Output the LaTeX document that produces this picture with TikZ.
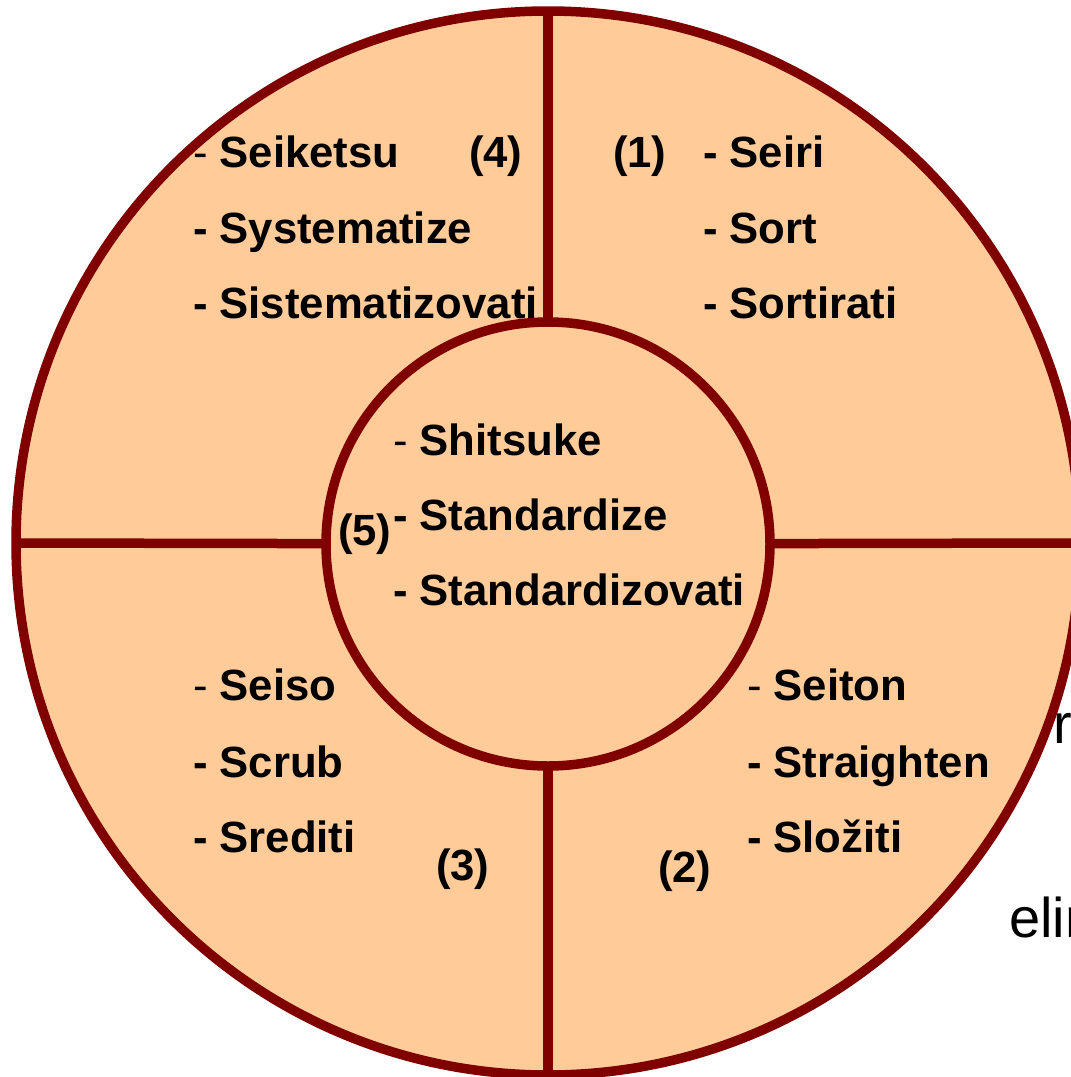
\documentclass[tikz,border=0pt]{standalone}
\usepackage{fontspec}
\setmainfont{Liberation Sans}
\definecolor{peach}{HTML}{FFCC99}
\definecolor{rim}{HTML}{800000}
\newcommand{\thindash}{{\mdseries -}}
\begin{document}
\begin{tikzpicture}[x=1pt,y=-1pt,
  ring/.style={circle,draw=rim,fill=peach,line width=9.5pt,inner sep=0pt,outer sep=0pt},
  divider/.style={draw=rim,line width=9.5pt},
  lbl/.style={anchor=base west,inner sep=0pt,outer sep=0pt,font=\fontsize{43.7pt}{43.7pt}\selectfont\bfseries,text=black},
  bgtxt/.style={anchor=base west,inner sep=0pt,outer sep=0pt,font=\fontsize{56pt}{56pt}\selectfont,text=black}
]
\fill[white] (0,0) rectangle (1071,1077);
\useasboundingbox (0,0) rectangle (1071,1077);
% text partly hidden behind the wheel
\node[bgtxt] (tr) at (1053,743) {r};
\node[bgtxt] (tel) at (1009,937) {elim};
% wheel
\node[ring,minimum size=1064pt] (outer) at (548,543) {};
\draw[divider] (outer.north) -- (548,544) -- (outer.south);
\draw[divider] (outer.west) -- (548,544) -- (outer.east);
\node[ring,minimum size=444pt] (inner) at (548,544) {};
% quadrant 4 (top left)
\node[lbl] (s4a) at (193,167) {\thindash{} Seiketsu};
\node[lbl] (n4) at (469,167) {(4)};
\node[lbl] (s4b) at (193,243) {- Systematize};
\node[lbl] (s4c) at (193,318) {- Sistematizovati};
% quadrant 1 (top right)
\node[lbl] (n1) at (613,167) {(1)};
\node[lbl] (s1a) at (703,167) {- Seiri};
\node[lbl] (s1b) at (703,243) {- Sort};
\node[lbl] (s1c) at (703,318) {- Sortirati};
% centre 5
\node[lbl] (s5a) at (393,455) {\thindash{} Shitsuke};
\node[lbl] (s5b) at (393,530) {- Standardize};
\node[lbl] (s5c) at (393,605) {- Standardizovati};
\node[lbl] (n5) at (338,545) {(5)};
% quadrant 3 (bottom left)
\node[lbl] (s3a) at (193,700) {\thindash{} Seiso};
\node[lbl] (s3b) at (193,777) {- Scrub};
\node[lbl] (s3c) at (193,852) {- Srediti};
\node[lbl] (n3) at (436,880) {(3)};
% quadrant 2 (bottom right)
\node[lbl] (s2a) at (747,700) {\thindash{} Seiton};
\node[lbl] (s2b) at (747,777) {- Straighten};
\node[lbl] (s2c) at (747,852) {- Složiti};
\node[lbl] (n2) at (658,882) {(2)};
\end{tikzpicture}
\end{document}
